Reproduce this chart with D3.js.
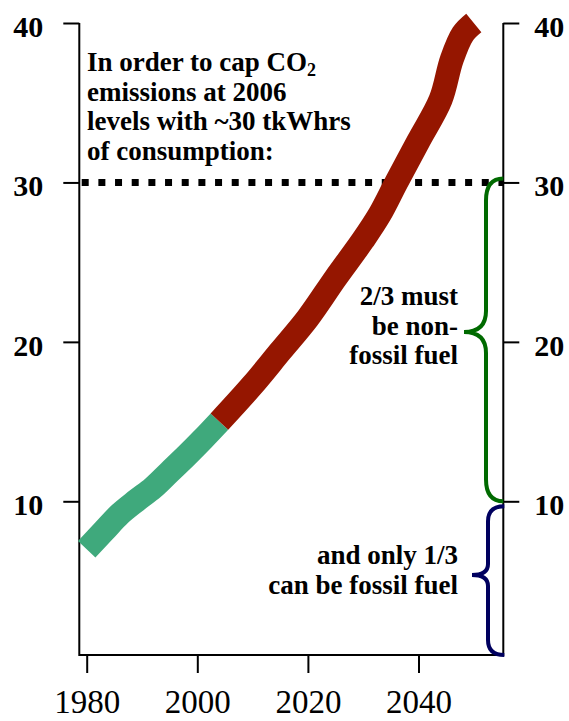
<!DOCTYPE html>
<html>
<head>
<meta charset="utf-8">
<script src="https://cdn.jsdelivr.net/npm/d3@7"></script>
<style>
  html, body { margin: 0; padding: 0; background: #fff; }
  svg { display: block; font-family: "Liberation Serif", "Times New Roman", serif; }
</style>
</head>
<body>
<div id="chart"></div>
<script>
// Chart data
const greenYears = [1980, 1983, 1986, 1989, 1992, 1995, 1998, 2001, 2004];
const greenValues = [7.0, 8.1, 9.2, 10.05, 10.85, 11.85, 12.85, 13.9, 15.0];
const redYears = [2004, 2010, 2015, 2020, 2025, 2030, 2033, 2036, 2040, 2044, 2046, 2048, 2050];
const redValues = [15.0, 17.3, 19.4, 21.5, 24.0, 26.4, 28.0, 30.0, 32.6, 35.2, 37.7, 39.3, 40.0];
const capLevel = 30;
const xTicks = [1980, 2000, 2020, 2040];
const yTicks = [10, 20, 30, 40];
const titleLines = ["In order to cap CO|2", "emissions at 2006", "levels with ~30 tkWhrs", "of consumption:"];
const nonFossilLines = ["2/3 must", "be non-", "fossil fuel"];
const fossilLines = ["and only 1/3", "can be fossil fuel"];

const width = 569;
const height = 721;

const svg = d3.select("#chart")
    .append("svg")
    .attr("width", width)
    .attr("height", height);

// Scales
const x = d3.scaleLinear().domain([1980, 2040]).range([86.7, 418.5]);
const y = d3.scaleLinear().domain([10, 40]).range([501.3, 23]);

const frameLeft = 79.3, frameRight = 503.3, frameTop = 23, frameBottom = 655;

// Frame lines (left, right, bottom)
svg.append("path")
    .attr("d", `M${frameLeft},${frameTop}V${frameBottom}H${frameRight}V${frameTop}`)
    .attr("fill", "none")
    .attr("stroke", "#000")
    .attr("stroke-width", 2);

// Left axis
const yAxisLeft = svg.append("g")
    .attr("transform", `translate(${frameLeft},0)`)
    .call(d3.axisLeft(y).tickValues(yTicks).tickSize(16).tickPadding(20).tickSizeOuter(0));
yAxisLeft.select(".domain").remove();

// Right axis
const yAxisRight = svg.append("g")
    .attr("transform", `translate(${frameRight},0)`)
    .call(d3.axisRight(y).tickValues(yTicks).tickSize(16).tickPadding(15).tickSizeOuter(0));
yAxisRight.select(".domain").remove();

[yAxisLeft, yAxisRight].forEach(g => {
    g.selectAll("line").attr("stroke", "#000").attr("stroke-width", 2);
    g.selectAll("text")
        .attr("dy", "0.44em")
        .style("font-family", "Liberation Serif")
        .style("font-weight", "bold")
        .style("font-size", "30px")
        .attr("fill", "#000");
});

// Bottom axis
const xAxis = svg.append("g")
    .attr("transform", `translate(0,${frameBottom})`)
    .call(d3.axisBottom(x).tickValues(xTicks).tickFormat(d3.format("d")).tickSize(18).tickSizeOuter(0));
xAxis.select(".domain").remove();
xAxis.selectAll("line").attr("stroke", "#000").attr("stroke-width", 2);
xAxis.selectAll("text")
    .attr("y", 58)
    .attr("dy", 0)
    .style("font-family", "Liberation Serif")
    .style("font-size", "33px")
    .attr("fill", "#000");

// Dotted cap line at 30
svg.append("line")
    .attr("x1", 81.7)
    .attr("x2", frameRight)
    .attr("y1", y(capLevel))
    .attr("y2", y(capLevel))
    .attr("stroke", "#000")
    .attr("stroke-width", 7)
    .attr("stroke-dasharray", "7,9.67");

// Consumption curve
const line = d3.line()
    .x(d => x(d[0]))
    .y(d => y(d[1]))
    .curve(d3.curveCatmullRom.alpha(0.5));

svg.append("path")
    .datum(greenYears.map((yr, i) => [yr, greenValues[i]]))
    .attr("d", line)
    .attr("fill", "none")
    .attr("stroke", "#3fa97c")
    .attr("stroke-width", 24);

svg.append("path")
    .datum(redYears.map((yr, i) => [yr, redValues[i]]))
    .attr("d", line)
    .attr("fill", "none")
    .attr("stroke", "#951600")
    .attr("stroke-width", 24);

// Curly braces pointing left
function brace(xEnd, xV, xTip, yTop, yBot, yTip, rEnd, rTip) {
    return `M${xEnd},${yTop}` +
        `Q${xV},${yTop} ${xV},${yTop + rEnd}` +
        `L${xV},${yTip - rTip}` +
        `Q${xV},${yTip} ${xTip},${yTip}` +
        `Q${xV},${yTip} ${xV},${yTip + rTip}` +
        `L${xV},${yBot - rEnd}` +
        `Q${xV},${yBot} ${xEnd},${yBot}`;
}

svg.append("path")
    .attr("d", brace(frameRight, 486, 464, y(30) - 4, y(10), 332, 22, 21))
    .attr("fill", "none")
    .attr("stroke", "#006a00")
    .attr("stroke-width", 4);

svg.append("path")
    .attr("d", brace(frameRight + 1, 488, 472, y(10) + 5, frameBottom, 575, 15, 11))
    .attr("fill", "none")
    .attr("stroke", "#00005f")
    .attr("stroke-width", 4);

// Annotations
const annot = svg.append("g")
    .style("font-family", "Liberation Serif")
    .style("font-weight", "bold")
    .style("font-size", "27px")
    .attr("fill", "#000");

titleLines.forEach((t, i) => {
    const parts = t.split("|");
    const txt = annot.append("text")
        .attr("x", 87)
        .attr("y", 71 + i * 29.5);
    txt.append("tspan").text(parts[0]);
    if (parts[1]) {
        txt.append("tspan")
            .attr("dy", 5)
            .style("font-size", "18px")
            .text(parts[1]);
    }
});

nonFossilLines.forEach((t, i) => {
    annot.append("text")
        .attr("x", 458)
        .attr("y", 305 + i * 29.5)
        .attr("text-anchor", "end")
        .text(t);
});

fossilLines.forEach((t, i) => {
    annot.append("text")
        .attr("x", 458)
        .attr("y", 564 + i * 30)
        .attr("text-anchor", "end")
        .text(t);
});
</script>
</body>
</html>
